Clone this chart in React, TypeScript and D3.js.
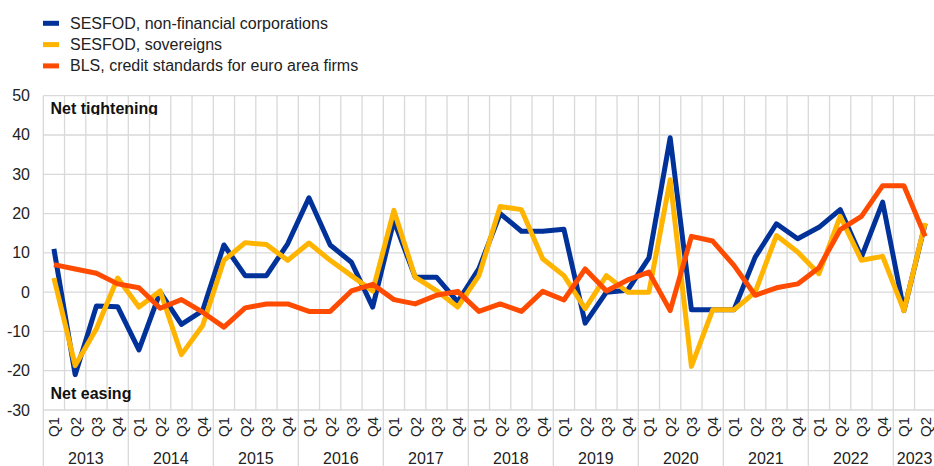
import React from "react";
import * as d3 from "d3";

const years = ["2013","2014","2015","2016","2017","2018","2019","2020","2021","2022","2023"];
const quarterNames = ["Q1","Q2","Q3","Q4"];
const quarters: { year: string; q: string; key: string }[] = [];
years.forEach((y) => quarterNames.forEach((q) => { if (!(y === "2023" && (q === "Q3" || q === "Q4"))) quarters.push({ year: y, q, key: y + q }); }));

const nfc = [11,-21,-3.5,-3.7,-14.7,0,-8.2,-4.7,12,4.2,4.2,12.3,24,12,7.6,-3.8,18.2,3.8,3.8,-2.5,6,20,15.5,15.5,16,-7.9,0,0.5,8.7,39.3,-4.5,-4.5,-4.5,8.9,17.4,13.6,16.5,21,8.9,22.9,-4.7,17.4];
const sovereigns = [3.6,-18.7,-9.3,3.6,-3.8,0.3,-15.9,-8.5,8.1,12.6,12.1,8.1,12.5,8.1,4.2,0.3,20.8,3.8,0.4,-3.8,4.2,21.8,21,8.5,4.2,-4.2,4.2,0,0,28.6,-18.9,-4.5,-4.5,0,14.4,10.2,4.7,19.3,8.1,9.1,-4.7,17.6];
const bls = [7,5.9,4.8,2.1,1.1,-4.1,-1.9,-5.1,-8.9,-4,-3,-3,-4.9,-4.9,0.3,2,-1.9,-3,-0.8,0.2,-4.9,-3,-4.9,0.2,-2,5.9,0.3,3.1,5.1,-4.7,14.2,13,6.8,-0.8,1.1,2.1,6.2,15.9,19.3,27.1,27.1,14.2];
const seriesNames = ["SESFOD, non-financial corporations","SESFOD, sovereigns","BLS, credit standards for euro area firms"];
const seriesColors = ["#003299","#ffb400","#ff4b00"];
const yTicks = [-30,-20,-10,0,10,20,30,40,50];

const W = 934, H = 466;
const left = 43.3, right = 935.8, top = 95.7, bottom = 410;

export default function App() {
  const x = d3.scaleBand().domain(quarters.map((d) => d.key)).range([left, right]).padding(0);
  const y = d3.scaleLinear().domain([-30, 50]).range([bottom, top]);
  const bw = x.bandwidth();
  const line = d3.line<number>().x((_, i) => (x(quarters[i].key) as number) + bw / 2).y((d) => y(d));
  const allSeries = [nfc, sovereigns, bls];
  const grid = "#d9d9d9";
  const font = "Arial, 'Liberation Sans', Helvetica, sans-serif";
  return (
    <svg width={W} height={H} style={{ position: "absolute", left: 0, top: 0, fontFamily: font }}>
      <defs>
        <clipPath id="tclip"><rect x={0} y={top} width={W} height={115 - top} /></clipPath>
      </defs>
      <rect x={0} y={0} width={W} height={H} fill="#fff" />
      {yTicks.map((t) => (
        <line key={"h" + t} x1={left} x2={right} y1={y(t)} y2={y(t)} stroke={grid} strokeWidth={1.3} />
      ))}
      {quarters.map((d, i) => {
        const xx = x(d.key) as number;
        const isYear = d.q === "Q1";
        return <line key={"v" + i} x1={xx} x2={xx} y1={top} y2={isYear ? H : bottom} stroke={grid} strokeWidth={1.3} />;
      })}
      <line x1={right} x2={right} y1={top} y2={H} stroke={grid} strokeWidth={1.3} />
      {yTicks.map((t) => (
        <text key={"yl" + t} x={30} y={y(t)} textAnchor="end" dominantBaseline="central" fontSize={16} fill="#222">{t}</text>
      ))}
      {quarters.map((d, i) => {
        const cx = (x(d.key) as number) + bw / 2;
        return (
          <text key={"q" + i} transform={`translate(${cx},417) rotate(-90)`} textAnchor="end" dominantBaseline="central" fontSize={15} fill="#222">{d.q}</text>
        );
      })}
      {years.map((yr) => {
        const qs = quarters.filter((d) => d.year === yr);
        const x0 = x(qs[0].key) as number;
        const x1 = (x(qs[qs.length - 1].key) as number) + bw;
        return <text key={"y" + yr} x={(x0 + x1) / 2} y={464} textAnchor="middle" fontSize={16} fill="#222">{yr}</text>;
      })}
      <text x={50.5} y={113.5} fontSize={16} fontWeight="bold" fill="#111" clipPath="url(#tclip)">Net tightening</text>
      <text x={50.5} y={399} fontSize={16} fontWeight="bold" fill="#111">Net easing</text>
      {allSeries.map((s, k) => (
        <path key={"s" + k} d={line(s) || ""} fill="none" stroke={seriesColors[k]} strokeWidth={5} strokeLinejoin="round" />
      ))}
      {seriesNames.map((n, k) => {
        const ly = 23.3 + k * 21.3;
        return (
          <g key={"lg" + k}>
            <rect x={43} y={ly - 2.5} width={16} height={5} fill={seriesColors[k]} />
            <text x={70} y={ly} dominantBaseline="central" fontSize={16} fill="#222">{n}</text>
          </g>
        );
      })}
    </svg>
  );
}
